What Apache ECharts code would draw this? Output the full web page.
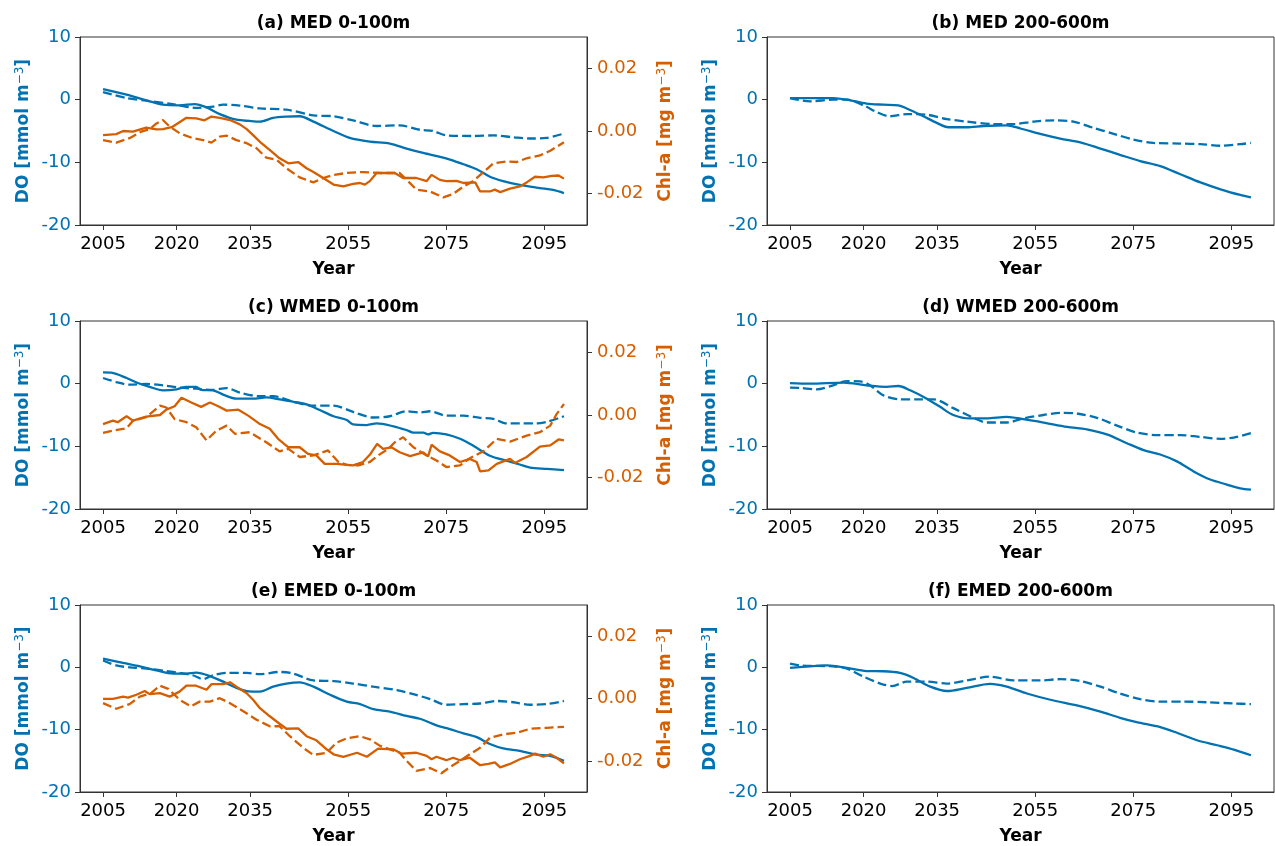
<!DOCTYPE html>
<html>
<head>
<meta charset="utf-8">
<script src="https://cdn.jsdelivr.net/npm/echarts@6/dist/echarts.min.js"></script>
<style>
  html, body { margin: 0; padding: 0; background: #ffffff; }
  #chart { width: 1275px; height: 846px; }
</style>
</head>
<body>
<div id="chart"></div>
<script>
// Tick positions shared by all panels
const yearTicks = [2005, 2020, 2035, 2055, 2075, 2095];
const doTicks = [-20, -10, 0, 10];
const chlTicks = [-0.02, 0, 0.02];

// ---- MED 0-100m : DO [mmol m-3] and Chl-a [mg m-3] anomalies ----
const medUpperDoSolid = [[2005,1.7],[2009.8,0.8],[2014.5,-0.26],[2017.2,-0.8],[2020.6,-0.9],[2023.7,-0.7],[2026,-1.2],[2028.8,-2.3],[2032.2,-3.2],[2034.9,-3.4],[2037,-3.5],[2039.7,-2.9],[2042.4,-2.7],[2045.1,-2.65],[2047.9,-3.5],[2052,-5.0],[2055.3,-6.1],[2059.4,-6.7],[2063.5,-7.0],[2066.9,-7.8],[2070.3,-8.5],[2075.1,-9.4],[2078.5,-10.3],[2081.2,-11.1],[2083.9,-12.3],[2086.6,-13.0],[2090,-13.6],[2094.1,-14.1],[2096.8,-14.4],[2099,-14.9]];
const medUpperDoDashed = [[2005,1.2],[2009.8,0.26],[2013.8,-0.16],[2019.2,-0.7],[2024,-1.3],[2027.4,-1.1],[2029.5,-0.8],[2032.9,-0.95],[2037,-1.4],[2042.4,-1.6],[2047.9,-2.5],[2052,-2.65],[2056,-3.3],[2060.8,-4.2],[2065.5,-4.1],[2069.6,-4.8],[2072.3,-5.0],[2075,-5.7],[2080.5,-5.8],[2084.6,-5.7],[2088.7,-6.0],[2092.1,-6.2],[2095.5,-6.1],[2099,-5.4]];
const medUpperChlSolid = [[2005,-0.0013],[2007.7,-0.001],[2009.1,0],[2011.1,-0.0002],[2013.8,0.0011],[2015.9,0.0005],[2017.2,0.0006],[2019,0.0012],[2020.6,0.0028],[2022,0.0042],[2024,0.004],[2025.7,0.0034],[2027.1,0.0046],[2028.8,0.0042],[2030.9,0.0035],[2032.9,0.0021],[2034.3,0.0006],[2035.6,-0.0013],[2037.3,-0.0039],[2039.4,-0.0066],[2041,-0.0087],[2042.8,-0.0103],[2044.8,-0.0099],[2046.5,-0.0119],[2047.9,-0.0131],[2049.9,-0.015],[2052,-0.0171],[2054,-0.0177],[2056,-0.0169],[2057.4,-0.0166],[2058.4,-0.0171],[2059.4,-0.016],[2060.8,-0.0134],[2062.8,-0.0134],[2064.5,-0.0134],[2066.2,-0.015],[2068.9,-0.015],[2071,-0.016],[2072,-0.014],[2073.7,-0.0156],[2075,-0.016],[2077.1,-0.0159],[2078.5,-0.0166],[2080.9,-0.0164],[2081.9,-0.0193],[2083.9,-0.0193],[2084.9,-0.0187],[2086,-0.0195],[2088,-0.0184],[2090,-0.0177],[2091.4,-0.0164],[2093.1,-0.0146],[2094.8,-0.0148],[2096.5,-0.0143],[2097.9,-0.0142],[2099,-0.0152]];
const medUpperChlDashed = [[2005,-0.0029],[2007.7,-0.0037],[2010.4,-0.0023],[2012.8,-0.0002],[2014.5,0.0006],[2015.9,0.0024],[2017.2,0.0035],[2018.6,0.0014],[2020.6,-0.0007],[2023.3,-0.0023],[2025.4,-0.0029],[2027.1,-0.0037],[2028.8,-0.0018],[2030.2,-0.0015],[2032.2,-0.0029],[2034.3,-0.0039],[2036.3,-0.0055],[2038.3,-0.0085],[2040.4,-0.0092],[2042.4,-0.0119],[2045.1,-0.0148],[2047.9,-0.0164],[2049.9,-0.015],[2052,-0.014],[2054.7,-0.0134],[2058,-0.0131],[2061.5,-0.0134],[2065.5,-0.0134],[2067.2,-0.016],[2068.9,-0.0187],[2071.7,-0.0193],[2074.4,-0.0212],[2076.4,-0.0201],[2078.5,-0.0177],[2080.5,-0.016],[2082.6,-0.0131],[2084.6,-0.0103],[2087.3,-0.0097],[2089.4,-0.0099],[2091.4,-0.0087],[2094.1,-0.0078],[2096.2,-0.0063],[2099,-0.0036]];

// ---- WMED 0-100m ----
const wmedUpperDoSolid = [[2005,1.8],[2006.7,1.75],[2009.8,0.9],[2012.1,0.1],[2014.5,-0.5],[2017.2,-1.06],[2020,-0.9],[2022,-0.5],[2024,-0.5],[2025,-1.0],[2027.4,-1.06],[2029.5,-1.75],[2032.2,-2.4],[2035.6,-2.4],[2038.3,-2.2],[2041,-2.5],[2043.8,-2.9],[2046.5,-3.3],[2049.2,-4.2],[2052,-5.2],[2054.7,-5.8],[2056,-6.5],[2058.8,-6.6],[2060.8,-6.35],[2064.2,-6.8],[2066.9,-7.4],[2068.3,-7.8],[2070.3,-7.8],[2071.3,-8.1],[2072.3,-7.85],[2075,-8.1],[2077.8,-8.8],[2080.5,-9.9],[2083.9,-11.5],[2087.3,-12.3],[2090,-12.9],[2092.1,-13.4],[2095.5,-13.6],[2099,-13.8]];
const wmedUpperDoDashed = [[2005,0.9],[2007.7,0.26],[2010.4,-0.16],[2013.8,-0.05],[2017.2,-0.26],[2020.6,-0.63],[2024,-0.8],[2027.4,-1.0],[2030.2,-0.7],[2032.9,-1.43],[2037,-2.0],[2039.7,-2.0],[2043.8,-2.9],[2047.9,-3.5],[2052,-3.5],[2056,-4.5],[2060.1,-5.4],[2063.5,-5.2],[2066.9,-4.4],[2069.6,-4.6],[2071.7,-4.4],[2075,-5.1],[2078.5,-5.1],[2081.9,-5.45],[2084.6,-5.6],[2087.3,-6.35],[2090,-6.35],[2093.4,-6.35],[2095.5,-6.1],[2099,-5.2]];
const wmedUpperChlSolid = [[2005,-0.0029],[2007,-0.0018],[2008,-0.0023],[2009.8,-0.0004],[2011.1,-0.0018],[2013.8,-0.0005],[2016.6,0],[2017.9,0.0017],[2019.6,0.0028],[2021,0.0055],[2023,0.004],[2025,0.0026],[2026.8,0.004],[2028.5,0.0028],[2030.2,0.0014],[2032.6,0.0017],[2034.6,-0.0002],[2037,-0.0029],[2039,-0.0044],[2040.7,-0.0076],[2042.8,-0.0103],[2045.1,-0.0103],[2046.8,-0.0124],[2048.5,-0.0129],[2050.2,-0.0156],[2052.6,-0.0156],[2056,-0.0161],[2058,-0.015],[2059.4,-0.0127],[2060.9,-0.0092],[2062.1,-0.0108],[2063.8,-0.0103],[2065.5,-0.0119],[2067.6,-0.0131],[2070.3,-0.0119],[2071.3,-0.0132],[2072,-0.0095],[2073.7,-0.0116],[2075.7,-0.0129],[2077.8,-0.015],[2079.8,-0.014],[2081.2,-0.015],[2081.9,-0.018],[2083.6,-0.0177],[2085.3,-0.0156],[2088,-0.014],[2089,-0.0153],[2091.4,-0.0134],[2094.1,-0.0101],[2096.2,-0.0097],[2097.9,-0.0078],[2099,-0.0081]];
const wmedUpperChlDashed = [[2005,-0.0057],[2007,-0.005],[2009.8,-0.0042],[2011.1,-0.0018],[2013.8,-0.0007],[2016.6,0.003],[2017.9,0.0024],[2019.6,-0.0013],[2022,-0.0023],[2024,-0.0039],[2026.1,-0.0081],[2028.1,-0.005],[2030.2,-0.0034],[2031.9,-0.006],[2034.9,-0.0055],[2038.3,-0.0087],[2041,-0.0116],[2042.8,-0.0108],[2045.1,-0.0134],[2047.9,-0.0129],[2050.9,-0.0113],[2053,-0.015],[2054.7,-0.0159],[2057.1,-0.0161],[2059.4,-0.015],[2061.1,-0.0129],[2063.2,-0.0108],[2064.5,-0.0087],[2066.2,-0.0071],[2068.3,-0.0103],[2071,-0.0129],[2073,-0.0145],[2075,-0.0166],[2077.8,-0.0161],[2079.8,-0.0138],[2082.6,-0.0116],[2085.3,-0.0076],[2088,-0.0085],[2091.4,-0.0066],[2094.1,-0.0055],[2096.2,-0.0034],[2097.5,0.0003],[2099,0.0035]];

// ---- EMED 0-100m ----
const emedUpperDoSolid = [[2005,1.4],[2009.1,0.7],[2012.5,0.16],[2015.9,-0.5],[2019.3,-1.0],[2022,-1.0],[2024,-0.85],[2026.8,-1.4],[2029.5,-2.3],[2032.2,-3.3],[2034.3,-3.8],[2037,-3.9],[2039.7,-3.1],[2042.4,-2.6],[2045.1,-2.4],[2047.9,-3.1],[2051.3,-4.4],[2054.7,-5.5],[2057.4,-5.9],[2060.1,-6.7],[2063.5,-7.1],[2066.9,-7.8],[2069.6,-8.25],[2073,-9.3],[2075.7,-9.9],[2078.5,-10.6],[2081.2,-11.2],[2083.9,-12.3],[2086.6,-13.0],[2090,-13.4],[2093.4,-14.0],[2096.2,-14.2],[2099,-15.0]];
const emedUpperDoDashed = [[2005,1.1],[2007.7,0.3],[2010.4,0],[2013.8,-0.2],[2017.9,-0.6],[2020.6,-0.9],[2023.3,-1.27],[2025.4,-1.9],[2027.4,-1.27],[2030.2,-0.9],[2034.3,-0.9],[2037,-1.1],[2041,-0.74],[2043.8,-1.0],[2047.9,-2.1],[2052,-2.2],[2056,-2.6],[2060.1,-3.1],[2064.9,-3.65],[2068.3,-4.3],[2071.7,-5.1],[2075,-6.0],[2078.5,-5.9],[2081.9,-5.8],[2085.3,-5.4],[2088.7,-5.6],[2092.1,-6.0],[2095.5,-5.9],[2099,-5.4]];
const emedUpperChlSolid = [[2005,-0.0001],[2007,-0.0001],[2009.1,0.0006],[2010.1,0.0003],[2011.8,0.0012],[2013.5,0.0024],[2014.5,0.0014],[2016.6,0.0017],[2018.6,0.0006],[2020.6,0.0022],[2022,0.0041],[2024,0.0041],[2026.1,0.0028],[2027.1,0.0046],[2029.5,0.0046],[2030.9,0.0052],[2032.2,0.0038],[2034.3,0.0017],[2035.6,-0.0004],[2037,-0.0031],[2039,-0.0057],[2041,-0.0081],[2042.4,-0.0097],[2044.8,-0.0096],[2046.5,-0.0121],[2048.5,-0.0134],[2050.6,-0.0163],[2052,-0.0179],[2054,-0.0187],[2056.8,-0.0174],[2058.8,-0.0187],[2061.1,-0.0161],[2064.2,-0.0163],[2065.9,-0.0177],[2068.9,-0.0174],[2071,-0.0184],[2072,-0.0195],[2073,-0.0187],[2075,-0.0198],[2076.4,-0.019],[2077.8,-0.0198],[2079.8,-0.019],[2081.9,-0.0214],[2083.6,-0.021],[2084.9,-0.0205],[2086,-0.0221],[2088,-0.021],[2090,-0.0195],[2092.1,-0.0184],[2093.1,-0.0177],[2094.8,-0.0187],[2096.2,-0.0179],[2097.5,-0.019],[2099,-0.0208]];
const emedUpperChlDashed = [[2005,-0.0015],[2007.7,-0.0033],[2010.4,-0.0018],[2012.5,0.0006],[2014.8,0.0017],[2016.6,0.0041],[2018.3,0.0031],[2020.6,-0.0004],[2022.9,-0.0025],[2024.7,-0.001],[2026.8,-0.001],[2028.8,0.0001],[2030.9,-0.0015],[2033.6,-0.0041],[2036.3,-0.0068],[2039,-0.0089],[2041,-0.0089],[2043.1,-0.0121],[2045.8,-0.0158],[2047.9,-0.0181],[2050.6,-0.0174],[2052.6,-0.0142],[2054.7,-0.0128],[2057.4,-0.0121],[2059.4,-0.0131],[2061.5,-0.0152],[2063.5,-0.0163],[2065.5,-0.0174],[2066.9,-0.02],[2068.9,-0.0232],[2071.7,-0.0223],[2074,-0.024],[2075.7,-0.0221],[2077.8,-0.02],[2079.8,-0.0179],[2081.9,-0.0158],[2083.9,-0.0126],[2086.6,-0.0115],[2089.4,-0.011],[2092.1,-0.0097],[2095.5,-0.0094],[2099,-0.0091]];

// ---- 200-600m DO anomalies ----
const medDeepDoSolid = [[2005,0.26],[2008.5,0.26],[2013.8,0.26],[2016.6,0],[2020.6,-0.63],[2024,-0.8],[2027.1,-0.9],[2028.8,-1.4],[2032.2,-2.65],[2034.9,-3.7],[2037.3,-4.4],[2041,-4.4],[2044.5,-4.2],[2049.2,-4.1],[2052,-4.6],[2056,-5.45],[2060.1,-6.2],[2064.2,-6.8],[2068.3,-7.8],[2072.3,-8.8],[2076.4,-9.8],[2080.5,-10.6],[2084.6,-11.9],[2088.7,-13.2],[2092.8,-14.3],[2096.8,-15.2],[2099,-15.6]];
const medDeepDoDashed = [[2005,0.26],[2009.1,-0.26],[2013.8,0],[2016.6,0],[2020,-0.9],[2022.7,-2.0],[2025.4,-2.65],[2028.8,-2.3],[2032.9,-2.4],[2037,-3.1],[2041,-3.5],[2046.5,-3.9],[2050.6,-3.9],[2054.7,-3.5],[2058.8,-3.3],[2062.8,-3.5],[2066.9,-4.5],[2071,-5.45],[2075,-6.35],[2079.1,-6.9],[2084.6,-7.0],[2088.7,-7.1],[2092.8,-7.35],[2096.8,-7.1],[2099,-6.9]];
const wmedDeepDoSolid = [[2005,0.1],[2009.1,0],[2015.9,0.16],[2020.6,-0.26],[2024.7,-0.5],[2027.1,-0.37],[2029.5,-1.06],[2032.9,-2.4],[2035.6,-3.7],[2038.3,-5.0],[2041.7,-5.55],[2045.1,-5.55],[2049.2,-5.3],[2052.6,-5.66],[2056.7,-6.2],[2061.5,-6.9],[2065.5,-7.3],[2069.6,-8.1],[2073.7,-9.5],[2077.1,-10.6],[2080.5,-11.3],[2083.9,-12.4],[2087.3,-14.0],[2090.7,-15.3],[2094.1,-16.1],[2096.8,-16.7],[2099,-16.9]];
const wmedDeepDoDashed = [[2005,-0.63],[2007,-0.68],[2010.4,-0.9],[2013.8,-0.26],[2016.6,0.42],[2019.3,0.37],[2021.3,-0.26],[2024,-1.85],[2027.4,-2.5],[2030.9,-2.5],[2034.3,-2.5],[2038.3,-3.9],[2042.4,-5.45],[2045.1,-6.2],[2049.2,-6.2],[2052.6,-5.55],[2056.7,-5.0],[2060.1,-4.65],[2063.5,-4.76],[2067.6,-5.45],[2071.7,-6.7],[2075.7,-7.8],[2079.8,-8.2],[2084.6,-8.2],[2088.7,-8.5],[2092.8,-8.8],[2095.5,-8.6],[2099,-7.9]];
const emedDeepDoSolid = [[2005,-0.1],[2009.1,0.16],[2012.6,0.3],[2016.6,-0.1],[2020.6,-0.6],[2024,-0.63],[2027.4,-0.9],[2030.2,-1.7],[2033.6,-3.1],[2037,-3.8],[2041,-3.3],[2045.8,-2.65],[2049.2,-3.1],[2053.3,-4.2],[2058.1,-5.2],[2063.5,-6.1],[2068.3,-7.1],[2072.3,-8.1],[2075.7,-8.8],[2080.5,-9.6],[2083.9,-10.5],[2088,-11.7],[2092.1,-12.5],[2095.5,-13.2],[2099,-14.1]];
const emedDeepDoDashed = [[2005,0.58],[2007,0.3],[2013.8,0.16],[2016.6,-0.2],[2020,-1.5],[2023.4,-2.6],[2025.8,-3.0],[2028.8,-2.3],[2032.9,-2.3],[2037,-2.6],[2041,-2.1],[2045.8,-1.5],[2050.6,-2.1],[2056,-2.1],[2060.1,-1.9],[2064.2,-2.2],[2068.3,-3.1],[2072.3,-4.2],[2076.4,-5.1],[2080.5,-5.5],[2085.3,-5.5],[2090,-5.6],[2095.5,-5.8],[2099,-5.9]];

const BLUE = '#0072B2';
const ORANGE = '#D55E00';
const AXIS = '#333333';
const FONT = 'DejaVu Sans';

const panels = [
  { title: '(a) MED 0-100m',    col: 0, row: 0, doSolid: medUpperDoSolid,  doDashed: medUpperDoDashed,  chlSolid: medUpperChlSolid,  chlDashed: medUpperChlDashed },
  { title: '(b) MED 200-600m',  col: 1, row: 0, doSolid: medDeepDoSolid,   doDashed: medDeepDoDashed },
  { title: '(c) WMED 0-100m',   col: 0, row: 1, doSolid: wmedUpperDoSolid, doDashed: wmedUpperDoDashed, chlSolid: wmedUpperChlSolid, chlDashed: wmedUpperChlDashed },
  { title: '(d) WMED 200-600m', col: 1, row: 1, doSolid: wmedDeepDoSolid,  doDashed: wmedDeepDoDashed },
  { title: '(e) EMED 0-100m',   col: 0, row: 2, doSolid: emedUpperDoSolid, doDashed: emedUpperDoDashed, chlSolid: emedUpperChlSolid, chlDashed: emedUpperChlDashed },
  { title: '(f) EMED 200-600m', col: 1, row: 2, doSolid: emedDeepDoSolid,  doDashed: emedDeepDoDashed }
];

// Panel geometry (px)
const colLeft = [80, 767];
const plotW = 507;
const rowTop = [37, 321, 605];
const plotH = 188;
const LINE_W = 2.3;
const DASH = [9, 4];

const titles = [], grids = [], xAxes = [], yAxes = [], series = [];

panels.forEach((p, i) => {
  const left = colLeft[p.col];
  const top = rowTop[p.row];

  titles.push({
    text: p.title,
    left: left + plotW / 2,
    top: top - 22,
    textAlign: 'center',
    padding: 0,
    textStyle: { fontFamily: FONT, fontSize: 17, fontWeight: 'bold', color: '#000' }
  });

  grids.push({
    left: left, top: top, width: plotW, height: plotH,
    show: true, borderColor: AXIS, borderWidth: 1, backgroundColor: 'transparent',
    containLabel: false
  });

  xAxes.push({
    type: 'value', gridIndex: i, min: 2000.3, max: 2103.7,
    name: 'Year', nameLocation: 'middle', nameGap: 36,
    nameTextStyle: { fontFamily: FONT, fontSize: 17, fontWeight: 'bold', color: '#000' },
    axisLine: { show: true, onZero: false, lineStyle: { color: AXIS, width: 1 } },
    axisTick: { show: true, inside: false, length: 5, customValues: yearTicks, lineStyle: { color: AXIS } },
    axisLabel: { show: true, margin: 10, customValues: yearTicks, fontFamily: FONT, fontSize: 18, color: '#000',
                 formatter: v => String(v) },
    splitLine: { show: false }
  });

  const doAxisIndex = yAxes.length;
  yAxes.push({
    type: 'value', gridIndex: i, position: 'left', min: doTicks[0], max: doTicks[doTicks.length - 1], interval: 10,
    name: '{b|DO [mmol m}{s|\u22123}{b|]}', nameLocation: 'middle', nameRotate: 90, nameGap: 46,
    nameTextStyle: {
      color: BLUE,
      rich: {
        b: { fontFamily: FONT, fontSize: 17, fontWeight: 'bold', color: BLUE, lineHeight: 20 },
        s: { fontFamily: FONT, fontSize: 12, fontWeight: 'normal', color: BLUE, verticalAlign: 'top', lineHeight: 12 }
      }
    },
    axisLine: { show: true, onZero: false, lineStyle: { color: AXIS, width: 1 } },
    axisTick: { show: true, inside: false, length: 5, lineStyle: { color: AXIS } },
    axisLabel: { show: true, margin: 9, fontFamily: FONT, fontSize: 18, color: BLUE, formatter: v => String(v) },
    splitLine: { show: false }
  });

  // DO lines
  series.push({
    type: 'line', xAxisIndex: i, yAxisIndex: doAxisIndex, data: p.doSolid,
    symbol: 'none', smooth: 0.3, z: 2,
    lineStyle: { color: BLUE, width: LINE_W, type: 'solid' }
  });
  series.push({
    type: 'line', xAxisIndex: i, yAxisIndex: doAxisIndex, data: p.doDashed,
    symbol: 'none', smooth: 0.3, z: 2,
    lineStyle: { color: BLUE, width: LINE_W, type: DASH }
  });

  if (p.chlSolid) {
    const chlAxisIndex = yAxes.length;
    yAxes.push({
      type: 'value', gridIndex: i, position: 'right', min: -0.03, max: 0.03,
      name: '{b|Chl-a [mg m}{s|\u22123}{b|]}', nameLocation: 'middle', nameRotate: 90, nameGap: 69,
      nameTextStyle: {
        color: ORANGE,
        rich: {
          b: { fontFamily: FONT, fontSize: 17, fontWeight: 'bold', color: ORANGE, lineHeight: 20 },
          s: { fontFamily: FONT, fontSize: 12, fontWeight: 'normal', color: ORANGE, verticalAlign: 'top', lineHeight: 12 }
        }
      },
      axisLine: { show: true, onZero: false, lineStyle: { color: AXIS, width: 1 } },
      axisTick: { show: true, inside: false, length: 5, customValues: chlTicks, lineStyle: { color: AXIS } },
      axisLabel: { show: true, margin: 10, customValues: chlTicks, fontFamily: FONT, fontSize: 18, color: ORANGE,
                   formatter: v => (Math.abs(v) < 1e-9 ? 0 : v).toFixed(2) },
      splitLine: { show: false }
    });
    series.push({
      type: 'line', xAxisIndex: i, yAxisIndex: chlAxisIndex, data: p.chlSolid,
      symbol: 'none', smooth: false, z: 3,
      lineStyle: { color: ORANGE, width: LINE_W, type: 'solid' }
    });
    series.push({
      type: 'line', xAxisIndex: i, yAxisIndex: chlAxisIndex, data: p.chlDashed,
      symbol: 'none', smooth: false, z: 3,
      lineStyle: { color: ORANGE, width: LINE_W, type: DASH }
    });
  }
});

const chart = echarts.init(document.getElementById('chart'), null, { renderer: 'canvas' });
chart.setOption({
  backgroundColor: '#ffffff',
  animation: false,
  title: titles,
  grid: grids,
  xAxis: xAxes,
  yAxis: yAxes,
  series: series
});
</script>
</body>
</html>
